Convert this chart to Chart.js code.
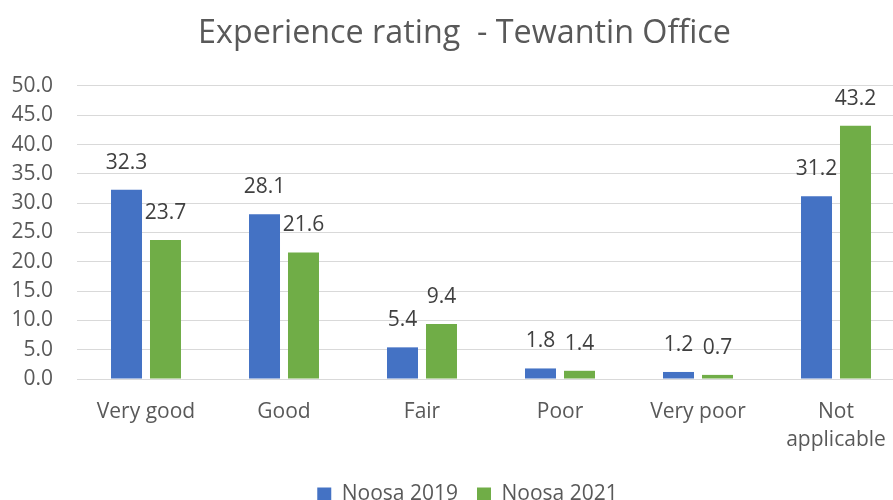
<!DOCTYPE html>
<html><head><meta charset="utf-8">
<script src="https://cdn.jsdelivr.net/npm/chart.js@4"></script>
<style>
html,body{margin:0;padding:0;overflow:hidden;background:#fff}
#wrap{width:905px;height:515px;position:relative}
</style>
</head><body>
<div id="wrap"><canvas id="c"></canvas></div>
<script>
const categories = ['Very good', 'Good', 'Fair', 'Poor', 'Very poor', ['Not', 'applicable']];
const seriesNames = ['Noosa 2019', 'Noosa 2021'];
const noosa2019 = [32.3, 28.1, 5.4, 1.8, 1.2, 31.2];
const noosa2021 = [23.7, 21.6, 9.4, 1.4, 0.7, 43.2];
const yMin = 0, yMax = 50, yStep = 5;
const titleText = 'Experience rating  - Tewantin Office';

const FONT = "'Open Sans', sans-serif";

const valueLabels = {
  id: 'valueLabels',
  afterDatasetsDraw(chart) {
    const ctx = chart.ctx;
    ctx.save();
    ctx.font = '21px ' + FONT;
    ctx.fillStyle = '#404040';
    ctx.textAlign = 'center';
    ctx.textBaseline = 'middle';
    chart.data.datasets.forEach((ds, i) => {
      const meta = chart.getDatasetMeta(i);
      meta.data.forEach((el, j) => {
        ctx.fillText(ds.data[j].toFixed(1), el.x, el.y - 27);
      });
    });
    ctx.restore();
  }
};

const shiftBlocks = {
  id: 'shiftBlocks',
  afterLayout(chart) {
    if (chart.titleBlock) chart.titleBlock.left += 24;
    if (chart.legend) chart.legend.left += 30;
  }
};

new Chart(document.getElementById('c'), {
  type: 'bar',
  data: {
    labels: categories,
    datasets: [
      { label: seriesNames[0], data: noosa2019, backgroundColor: '#4472C4', categoryPercentage: 0.565, barPercentage: 0.795 },
      { label: seriesNames[1], data: noosa2021, backgroundColor: '#70AD47', categoryPercentage: 0.565, barPercentage: 0.795 }
    ]
  },
  options: {
    responsive: true,
    maintainAspectRatio: false,
    animation: false,
    layout: { padding: 0 },
    plugins: {
      title: {
        display: true,
        text: titleText,
        color: '#595959',
        font: { family: FONT, size: 32.3, weight: 'normal', lineHeight: 1.2 },
        padding: { top: 14, bottom: 33.2 }
      },
      legend: {
        position: 'bottom',
        labels: {
          color: '#595959',
          font: { family: FONT, size: 21 },
          boxWidth: 14, boxHeight: 14,
          padding: 19
        }
      },
      tooltip: { enabled: false }
    },
    scales: {
      x: {
        grid: { display: false, drawTicks: false },
        border: { display: false },
        ticks: { color: '#595959', font: { family: FONT, size: 21, lineHeight: 1.333 }, padding: 19, maxRotation: 0, autoSkip: false },
        afterFit(s) { s.height = 86; }
      },
      y: {
        min: yMin, max: yMax,
        grid: { color: '#d9d9d9', lineWidth: 1, drawTicks: false },
        border: { display: false },
        ticks: { stepSize: yStep, color: '#595959', font: { family: FONT, size: 21 }, padding: 24,
          callback: v => Number(v).toFixed(1) },
        afterFit(s) { s.width = 77; }
      }
    }
  },
  plugins: [valueLabels, shiftBlocks]
});
</script>
</body></html>
